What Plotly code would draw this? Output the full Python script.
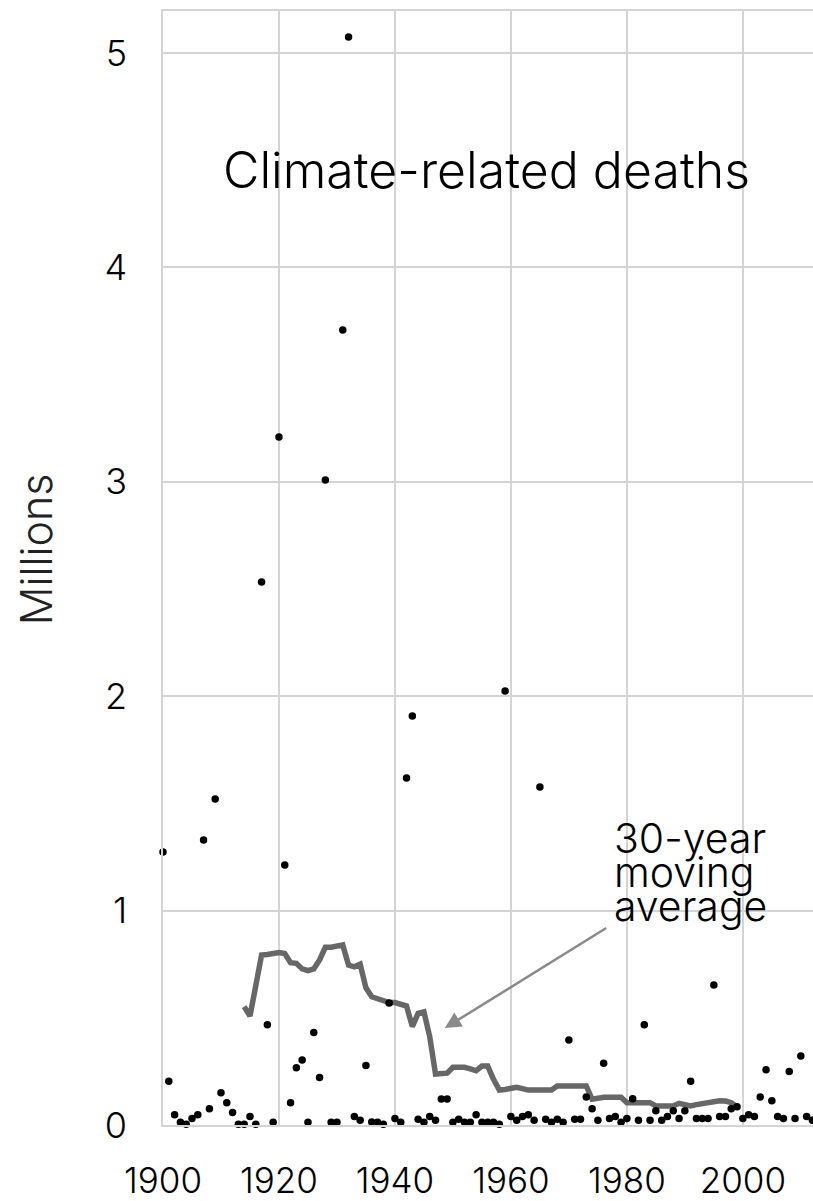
import plotly.graph_objects as go

# Annual climate-related deaths (millions), 1900-2012
years = list(range(1900, 2013))
deaths = [
    1.273, 0.204, 0.048, 0.013, 0.003, 0.030, 0.048, 1.329, 0.076, 1.520,   # 1900-1909
    0.150, 0.104, 0.058, 0.003, 0.003, 0.040, 0.003, 2.533, 0.468, 0.013,   # 1910-1919
    3.209, 1.213, 0.104, 0.267, 0.303, 0.013, 0.432, 0.222, 3.008, 0.013,   # 1920-1929
    0.013, 3.708, 5.075, 0.040, 0.022, 0.277, 0.014, 0.013, 0.003, 0.569,   # 1930-1939
    0.030, 0.013, 1.618, 1.908, 0.027, 0.013, 0.040, 0.022, 0.121, 0.121,   # 1940-1949
    0.013, 0.027, 0.013, 0.013, 0.048, 0.013, 0.013, 0.013, 0.003, 2.024,   # 1950-1959
    0.040, 0.022, 0.040, 0.048, 0.022, 1.577, 0.027, 0.013, 0.027, 0.013,   # 1960-1969
    0.396, 0.027, 0.027, 0.131, 0.076, 0.022, 0.288, 0.030, 0.040, 0.013,   # 1970-1979
    0.030, 0.123, 0.022, 0.468, 0.022, 0.067, 0.022, 0.040, 0.067, 0.030,   # 1980-1989
    0.067, 0.204, 0.030, 0.030, 0.030, 0.653, 0.040, 0.040, 0.076, 0.085,   # 1990-1999
    0.030, 0.048, 0.040, 0.131, 0.258, 0.113, 0.040, 0.030, 0.249, 0.030,   # 2000-2009
    0.322, 0.040, 0.022,                                                    # 2010-2012
]

# 30-year moving average (millions), 1914-1999
ma_years = list(range(1914, 2000))
ma_values = [
    0.552, 0.508, 0.650, 0.793, 0.795, 0.798, 0.804, 0.800, 0.757, 0.754,   # 1914-1923
    0.728, 0.720, 0.728, 0.770, 0.829, 0.829, 0.832, 0.840, 0.746, 0.738,   # 1924-1933
    0.750, 0.640, 0.598, 0.588, 0.578, 0.571, 0.571, 0.565, 0.555, 0.459,   # 1934-1943
    0.521, 0.528, 0.412, 0.238, 0.238, 0.242, 0.269, 0.269, 0.269, 0.262,   # 1944-1953
    0.253, 0.275, 0.275, 0.213, 0.163, 0.166, 0.170, 0.176, 0.170, 0.163,   # 1954-1963
    0.163, 0.163, 0.163, 0.163, 0.182, 0.182, 0.182, 0.182, 0.182, 0.182,   # 1964-1973
    0.120, 0.127, 0.129, 0.129, 0.129, 0.129, 0.104, 0.104, 0.104, 0.104,   # 1974-1983
    0.104, 0.089, 0.089, 0.089, 0.089, 0.101, 0.095, 0.089, 0.095, 0.101,   # 1984-1993
    0.105, 0.113, 0.113, 0.112, 0.104, 0.085,                               # 1994-1999
]

x_ticks = [1900, 1920, 1940, 1960, 1980, 2000]
y_ticks = [0, 1, 2, 3, 4, 5]

FONT = "Inter"
GRID = "#d4d4d4"

fig = go.Figure()
fig.add_trace(go.Scatter(
    x=ma_years, y=ma_values, mode="lines",
    line=dict(color="#676767", width=5.5),
    hoverinfo="skip", showlegend=False,
))
fig.add_trace(go.Scatter(
    x=years, y=deaths, mode="markers",
    marker=dict(color="black", size=7.5),
    cliponaxis=False, showlegend=False,
))

fig.update_layout(
    width=813, height=1201,
    margin=dict(l=163, r=0, t=11, b=76),
    paper_bgcolor="white", plot_bgcolor="white",
    font=dict(family=FONT, color="black"),
    xaxis=dict(
        range=[1900, 2012.1], tickvals=x_ticks, automargin=False,
        showgrid=True, gridcolor=GRID, gridwidth=1.5,
        showline=True, linecolor=GRID, linewidth=1.5, mirror=True,
        zeroline=False, ticks="",
        tickfont=dict(size=35, family=FONT, weight=300), ticklabelstandoff=24,
    ),
    yaxis=dict(
        range=[0, 5.196], tickvals=y_ticks, automargin=False,
        showgrid=True, gridcolor=GRID, gridwidth=1.5,
        showline=True, linecolor=GRID, linewidth=1.5, mirror=True,
        zeroline=False, ticks="",
        tickfont=dict(size=36, family=FONT, weight=300), ticklabelstandoff=27,
    ),
    annotations=[
        dict(text="Climate-related deaths", xref="paper", yref="paper",
             x=0.498, y=0.857, xanchor="center", yanchor="middle",
             showarrow=False, font=dict(size=50, family=FONT, weight=300, color="black")),
        dict(text="Millions", xref="paper", yref="paper",
             x=-0.195, y=0.517, xanchor="center", yanchor="middle", textangle=-90,
             showarrow=False, font=dict(size=43, family=FONT, weight=300, color="#222")),
        dict(text="30-year", xref="paper", yref="paper",
             x=(612 - 163) / 650, y=(1125 - 838) / 1114, xanchor="left", yanchor="middle",
             showarrow=False, font=dict(size=41, family=FONT, weight=300, color="black")),
        dict(text="moving", xref="paper", yref="paper",
             x=(612 - 163) / 650, y=(1125 - 872) / 1114, xanchor="left", yanchor="middle",
             showarrow=False, font=dict(size=41, family=FONT, weight=300, color="black")),
        dict(text="average", xref="paper", yref="paper",
             x=(612 - 163) / 650, y=(1125 - 906) / 1114, xanchor="left", yanchor="middle",
             showarrow=False, font=dict(size=41, family=FONT, weight=300, color="black")),
        dict(text="", x=1948.6, y=0.452, xref="x", yref="y",
             ax=1976.7, ay=0.923, axref="x", ayref="y",
             showarrow=True, arrowhead=2, arrowsize=1.3, arrowwidth=2.5,
             arrowcolor="#8a8a8a", standoff=0),
    ],
)

fig.write_html("out.html", config={"displayModeBar": False},
               post_script="document.body.style.margin='0';")
